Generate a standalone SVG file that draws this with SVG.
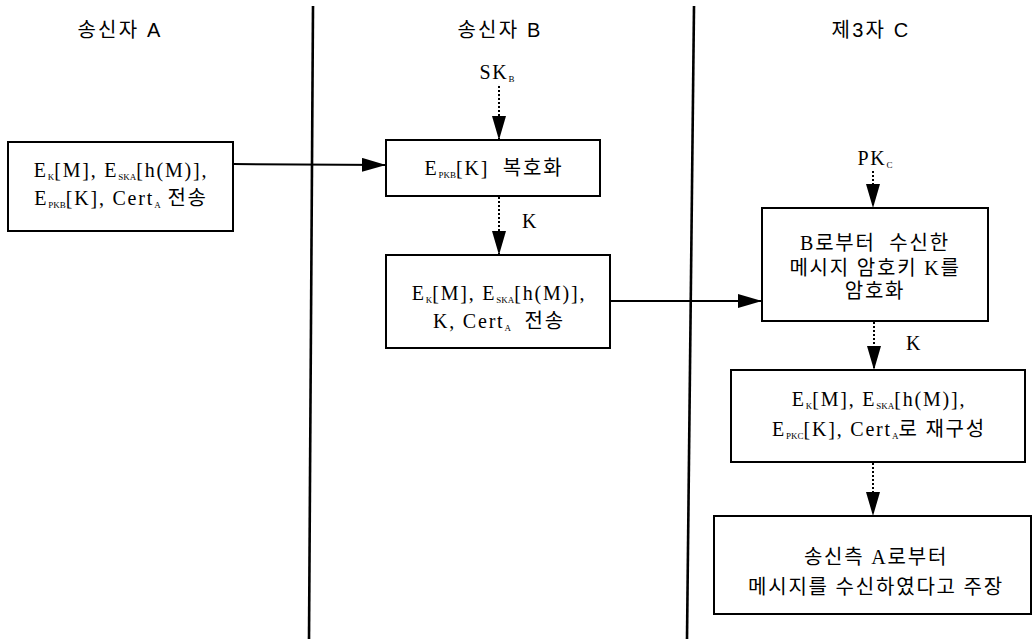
<svg xmlns="http://www.w3.org/2000/svg" width="1032" height="639" viewBox="0 0 1032 639">
<style>
.hdr{font-family:"Liberation Sans","Noto Sans CJK KR",sans-serif;font-size:20px;letter-spacing:2.2px;fill:#000;text-anchor:middle;white-space:pre}
.t{font-family:"Liberation Serif","Noto Sans CJK KR",serif;font-size:20px;letter-spacing:1.8px;fill:#000;text-anchor:middle;white-space:pre}
.k{letter-spacing:1.8px}
.s{font-size:9px;letter-spacing:0}
.box{fill:#fff;stroke:#000;stroke-width:2}
.lane{stroke:#000;stroke-width:2.6}
.solid{stroke:#000;stroke-width:2;fill:none}
.dot{stroke:#000;stroke-width:2;stroke-dasharray:2 2;fill:none}
</style>
<defs>
<marker id="ah" viewBox="0 0 24 14" refX="24" refY="7" markerWidth="24" markerHeight="14" markerUnits="userSpaceOnUse" orient="auto">
<path d="M0,0 L24,7 L0,14 Z" fill="#000"/>
</marker>
</defs>
<rect width="1032" height="639" fill="#fff"/>
<g id="lanes">
<line class="lane" x1="313" y1="6" x2="309" y2="639"/>
<line class="lane" x1="694" y1="6" x2="687" y2="639"/>
<text class="hdr" x="120" y="37">송신자 A</text>
<text class="hdr" x="500" y="37">송신자 B</text>
<text class="hdr" x="871" y="37">제3자 C</text>
</g>
<g id="connectors">
<line class="solid" x1="233" y1="164" x2="386" y2="165" marker-end="url(#ah)"/>
<line class="dot" x1="499" y1="86" x2="499" y2="140" marker-end="url(#ah)"/>
<line class="dot" x1="499" y1="197" x2="499" y2="255" marker-end="url(#ah)"/>
<line class="solid" x1="610" y1="301" x2="762" y2="301" marker-end="url(#ah)"/>
<line class="dot" x1="873" y1="171" x2="873" y2="208" marker-end="url(#ah)"/>
<line class="dot" x1="874" y1="322" x2="874" y2="370" marker-end="url(#ah)"/>
<line class="dot" x1="873" y1="463" x2="873" y2="516" marker-end="url(#ah)"/>
<text class="t" x="497" y="79">SK<tspan class="s" dy="3">B</tspan></text>
<text class="t" x="530" y="228">K</text>
<text class="t" x="875" y="165">PK<tspan class="s" dy="3">C</tspan></text>
<text class="t" x="914" y="350">K</text>
</g>
<g id="nodeA1">
<rect class="box" x="8" y="142" width="225" height="89"/>
<text class="t" x="121" y="177">E<tspan class="s" dy="3">K</tspan><tspan dy="-3">[M], E</tspan><tspan class="s" dy="3">SKA</tspan><tspan dy="-3">[h(M)],</tspan></text>
<text class="t" x="121" y="205">E<tspan class="s" dy="3">PKB</tspan><tspan dy="-3">[K], Cert</tspan><tspan class="s" dy="3">A</tspan><tspan dy="-3"> 전송</tspan></text>
</g>
<g id="nodeB1">
<rect class="box" x="386" y="140" width="214" height="56"/>
<text class="t" x="494" y="175">E<tspan class="s" dy="3">PKB</tspan><tspan dy="-3">[K]  복호화</tspan></text>
</g>
<g id="nodeB2">
<rect class="box" x="386" y="255" width="224" height="93"/>
<text class="t" x="499" y="300">E<tspan class="s" dy="3">K</tspan><tspan dy="-3">[M], E</tspan><tspan class="s" dy="3">SKA</tspan><tspan dy="-3">[h(M)],</tspan></text>
<text class="t" x="499" y="328">K, Cert<tspan class="s" dy="3">A</tspan><tspan dy="-3">  전송</tspan></text>
</g>
<g id="nodeC1">
<rect class="box" x="762" y="208" width="226" height="113"/>
<text class="t k" x="875" y="250">B로부터  수신한</text>
<text class="t k" x="875" y="275">메시지 암호키 K를</text>
<text class="t k" x="875" y="298">암호화</text>
</g>
<g id="nodeC2">
<rect class="box" x="731" y="370" width="294" height="92"/>
<text class="t" x="879" y="406">E<tspan class="s" dy="3">K</tspan><tspan dy="-3">[M], E</tspan><tspan class="s" dy="3">SKA</tspan><tspan dy="-3">[h(M)],</tspan></text>
<text class="t" x="879" y="436">E<tspan class="s" dy="3">PKC</tspan><tspan dy="-3">[K], Cert</tspan><tspan class="s" dy="3">A</tspan><tspan dy="-3">로 재구성</tspan></text>
</g>
<g id="nodeC3">
<rect class="box" x="714" y="516" width="317" height="98"/>
<text class="t k" x="876" y="564">송신측 A로부터</text>
<text class="t k" x="876" y="594">메시지를 수신하였다고 주장</text>
</g>
</svg>
